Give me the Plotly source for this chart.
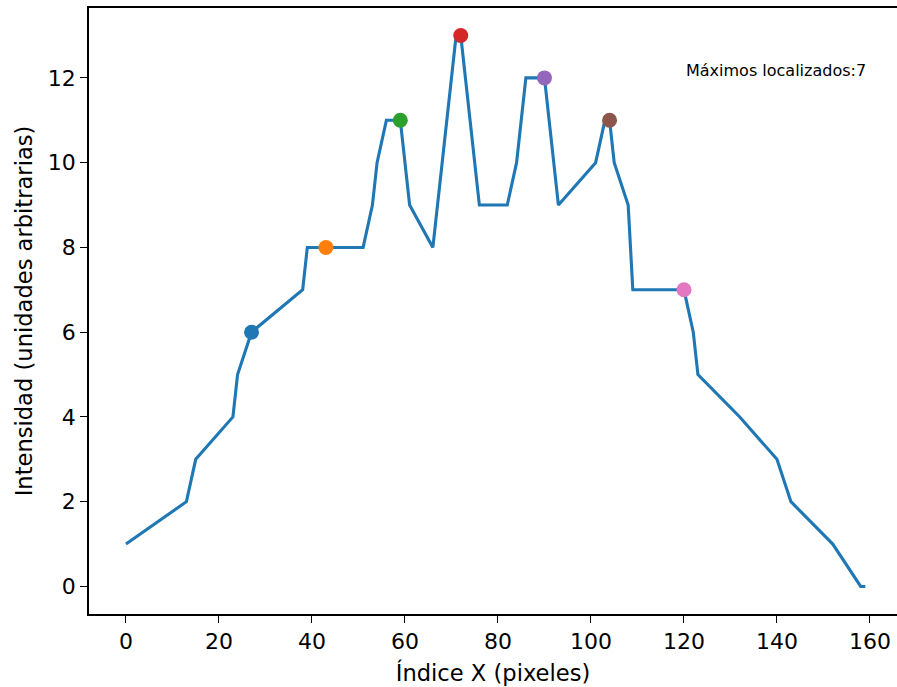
import plotly.graph_objects as go

# Line vertices (index, intensity)
x_vals = [0, 13, 15, 23, 24, 27, 38, 39, 51, 53, 54, 56, 59, 61, 66, 71, 72, 76, 82, 84, 86, 90, 93,
          101, 103, 104, 105, 108, 109, 120, 122, 123, 132, 140, 143, 152, 158, 159]
y_vals = [1, 2, 3, 4, 5, 6, 7, 8, 8, 9, 10, 11, 11, 9, 8, 13, 13, 9, 9, 10, 12, 12, 9,
          10, 11, 11, 10, 9, 7, 7, 6, 5, 4, 3, 2, 1, 0, 0]

# Located maxima
peak_x = [27, 43, 59, 72, 90, 104, 120]
peak_y = [6, 8, 11, 13, 12, 11, 7]
peak_colors = ["#1f77b4", "#ff7f0e", "#2ca02c", "#d62728", "#9467bd", "#8c564b", "#e377c2"]

annot_text = "Máximos localizados:" + str(len(peak_x))

FONT = "DejaVu Sans"

fig = go.Figure()
fig.add_trace(go.Scatter(x=x_vals, y=y_vals, mode="lines",
                         line=dict(color="#1f77b4", width=3.1), showlegend=False,
                         hoverinfo="skip"))
for px, py, c in zip(peak_x, peak_y, peak_colors):
    fig.add_trace(go.Scatter(x=[px], y=[py], mode="markers",
                             marker=dict(color=c, size=15, line=dict(width=0)),
                             showlegend=False))

fig.add_annotation(x=120, y=12, xref="x", yref="y", text=annot_text, showarrow=False,
                   xanchor="left", yanchor="bottom", yshift=-4,
                   font=dict(family=FONT, size=16, color="black"))

W, H = 897, 687
left, top, bottom = 89, 8, 73
px_per_unit = 4.65
xmin = -7.95
xmax = xmin + (W - left) / px_per_unit

fig.update_layout(
    width=W, height=H,
    margin=dict(l=left, r=0, t=top, b=bottom, pad=0),
    paper_bgcolor="white", plot_bgcolor="white",
    font=dict(family=FONT, size=22, color="black"),
    xaxis=dict(range=[xmin, xmax], tickvals=[0, 20, 40, 60, 80, 100, 120, 140, 160],
               showgrid=False, zeroline=False, showline=True, linecolor="black", linewidth=1.5,
               mirror=True, ticks="outside", ticklen=7, tickwidth=1.4, tickcolor="black",
               title=dict(text="Índice X (pixeles)", font=dict(size=22.6), standoff=12),
               tickfont=dict(size=22)),
    yaxis=dict(range=[-0.65, 13.65], tickvals=[0, 2, 4, 6, 8, 10, 12],
               showgrid=False, zeroline=False, showline=True, linecolor="black", linewidth=1.5,
               mirror=False, ticks="outside", ticklen=7, tickwidth=1.4, tickcolor="black",
               title=dict(text="Intensidad (unidades arbitrarias)", font=dict(size=22.6), standoff=9),
               tickfont=dict(size=22)),
)

fig.write_html("out.html")
